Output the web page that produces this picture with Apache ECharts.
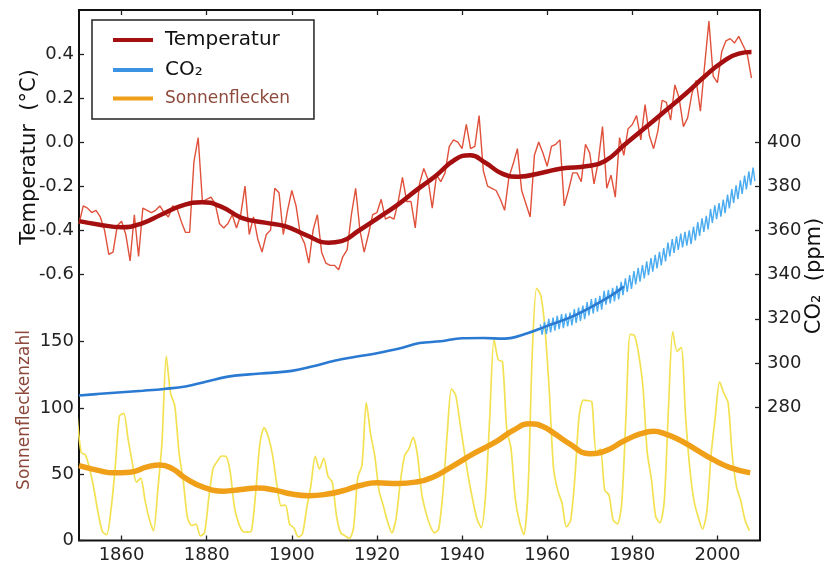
<!DOCTYPE html>
<html>
<head>
<meta charset="utf-8">
<script src="https://cdn.jsdelivr.net/npm/echarts@6/dist/echarts.min.js"></script>
<style>
html,body{margin:0;padding:0;background:#fff;}
#chart{width:836px;height:561px;}
</style>
</head>
<body>
<div id="chart"></div>
<script>
// ---------- DATA ----------
const tempStartYear = 1850;
const tempValues = [
-0.37,-0.29,-0.30,-0.32,-0.31,-0.34,-0.40,-0.51,-0.50,-0.38,
-0.36,-0.42,-0.54,-0.33,-0.52,-0.30,-0.31,-0.32,-0.31,-0.29,
-0.32,-0.34,-0.29,-0.30,-0.36,-0.41,-0.41,-0.09,0.02,-0.27,
-0.26,-0.25,-0.28,-0.37,-0.39,-0.37,-0.33,-0.39,-0.33,-0.20,
-0.42,-0.34,-0.44,-0.50,-0.42,-0.40,-0.21,-0.23,-0.42,-0.31,
-0.22,-0.29,-0.42,-0.46,-0.55,-0.40,-0.33,-0.50,-0.55,-0.56,
-0.56,-0.58,-0.52,-0.49,-0.33,-0.21,-0.40,-0.50,-0.42,-0.33,
-0.32,-0.26,-0.35,-0.34,-0.35,-0.27,-0.16,-0.27,-0.27,-0.39,
-0.19,-0.12,-0.17,-0.30,-0.15,-0.18,-0.14,-0.02,0.01,0.00,
-0.03,0.08,-0.03,-0.02,0.12,-0.13,-0.20,-0.21,-0.22,-0.26,
-0.31,-0.16,-0.10,-0.03,-0.22,-0.28,-0.34,-0.06,0.00,-0.05,
-0.11,-0.02,-0.01,0.01,-0.29,-0.22,-0.14,-0.14,-0.18,-0.01,
-0.05,-0.19,-0.09,0.07,-0.21,-0.15,-0.25,0.02,-0.06,0.06,
0.08,0.12,0.01,0.17,0.03,-0.03,0.05,0.19,0.18,0.10,
0.26,0.20,0.07,0.11,0.22,0.28,0.14,0.35,0.55,0.30,
0.27,0.41,0.46,0.47,0.45,0.48,0.44,0.40,0.29
];
const tempSmoothYears = [1850,1854.5,1860,1864.7,1869.4,1874,1878.8,1883.5,1888.2,1893.7,1898.4,1903.1,1908.6,1911.7,1915.6,1920.3,1925,1929.5,1933.7,1938.4,1941.9,1945.5,1949.3,1953.3,1958.8,1963.4,1969.5,1973.6,1978.3,1983,1987.7,1992.4,1997.1,2001,2005,2008];
const tempSmoothValues = [-0.359,-0.374,-0.387,-0.37,-0.329,-0.29,-0.273,-0.294,-0.344,-0.366,-0.382,-0.42,-0.457,-0.45,-0.404,-0.344,-0.283,-0.215,-0.155,-0.079,-0.06,-0.094,-0.142,-0.157,-0.139,-0.12,-0.109,-0.086,-0.01,0.065,0.141,0.217,0.3,0.361,0.402,0.409];

const co2IceYears = [1850,1855,1860,1865,1870,1875,1880,1885,1890,1895,1900,1905,1910,1915,1920,1925,1930,1935,1940,1945,1950,1955,1960,1965,1970,1975,1978];
const co2IceValues = [285.2,286.0,286.7,287.4,288.2,289.3,291.6,293.8,294.8,295.5,296.4,298.5,301.0,302.8,304.4,306.4,309.0,309.8,311.2,311.3,311.0,313.2,316.8,320.3,325.0,330.5,334.6];

const co2MloYears = [1958,1959,1960,1961,1962,1963,1964,1965,1966,1967,1968,1969,1970,1971,1972,1973,1974,1975,1976,1977,1978,1979,1980,1981,1982,1983,1984,1985,1986,1987,1988,1989,1990,1991,1992,1993,1994,1995,1996,1997,1998,1999,2000,2001,2002,2003,2004,2005,2006,2007,2008];
const co2MloSpringPeak = [317.5,318.6,320.0,320.6,321.4,322.1,322.4,322.8,324.4,325.1,326.0,327.6,328.9,329.4,330.4,332.7,333.1,334.0,335.0,336.8,338.3,339.8,341.6,343.1,344.4,346.1,347.5,349.0,350.4,352.1,354.6,356.1,357.4,358.6,359.4,360.1,361.8,363.8,365.6,366.7,369.7,371.4,372.5,374.1,376.3,378.8,380.5,382.8,384.9,386.8,388.6];
const co2MloAutumnLow = [312.8,313.0,313.8,314.6,315.3,315.8,316.6,317.0,318.2,319.0,319.8,321.5,322.4,323.2,324.1,326.4,327.0,327.9,328.8,330.7,332.2,333.6,335.6,336.9,338.3,339.8,341.4,342.9,344.2,346.0,348.3,349.9,351.2,352.4,353.2,353.9,355.6,357.6,359.4,360.5,363.5,365.2,366.3,367.9,370.1,372.6,374.3,376.6,378.7,380.6,382.4];

const sunStartYear = 1849;
const sunValues = [
95.8,66.5,64.5,54.1,39.0,20.6,6.7,4.3,22.7,54.8,93.8,
95.8,77.2,59.1,44.0,47.0,30.5,16.3,7.3,37.6,74.0,
139.0,111.2,101.6,66.2,44.7,17.0,11.3,12.4,3.4,6.0,
32.3,54.3,59.7,63.7,63.5,52.2,25.4,13.1,6.8,6.3,
7.1,35.6,73.0,85.1,78.0,64.0,41.8,26.2,26.7,12.1,
9.5,2.7,5.0,24.4,42.0,63.5,53.8,62.0,48.5,43.9,
18.6,5.7,3.6,1.4,9.6,47.4,57.1,103.9,80.6,63.6,
37.6,26.1,14.2,5.8,16.7,44.3,63.9,69.0,77.8,64.9,
35.7,21.2,11.1,5.7,8.7,36.1,79.7,114.4,109.6,88.8,
67.8,47.5,30.6,16.3,9.6,33.2,92.6,151.6,136.3,134.7,
83.9,69.4,31.5,13.9,4.4,38.0,141.7,190.2,184.8,159.0,
112.3,53.9,37.6,27.9,10.2,15.1,47.0,93.8,105.9,105.5,
104.5,66.6,68.9,38.0,34.5,15.5,12.6,27.5,92.5,155.4,
154.6,140.4,115.9,66.6,45.9,17.9,13.4,29.4,100.2,157.6,
142.6,145.7,94.3,54.6,29.9,17.5,8.6,21.5,64.3,93.3,
119.6,111.0,104.0,63.7,40.4,29.8,15.2,7.5
];
const sunSmoothYears = [1850,1855,1858,1862,1866,1869,1872,1875,1879,1884,1888,1892,1896,1900,1904,1908,1912,1916,1920,1925,1929,1933,1938,1943,1948,1952,1956,1959,1962,1965,1970,1974,1978,1982,1985,1988,1991,1995,1999,2003,2007.7];
const sunSmoothValues = [56.5,52.5,51,51.5,55.5,57,54,47,40.5,37.2,38.5,39.5,38,35,33.8,34.8,37.5,41.5,43.5,43,44,47.5,56.5,66,74.5,83,88,86,80,73.5,65.5,68,75,80.5,82.3,80,76,68.5,61,55,51];

const xTickValues = [1860,1880,1900,1920,1940,1960,1980,2000];
const tempTickValues = [-0.6,-0.4,-0.2,0.0,0.2,0.4];
const sunTickValues = [0,50,100,150];
const co2TickValues = [280,300,320,340,360,380,400];

// ---------- BUILD ----------
const tempData = tempValues.map((v,i)=>[tempStartYear+i, v]);
const tempSmooth = tempSmoothYears.map((y,i)=>[y, tempSmoothValues[i]]);
const co2Ice = co2IceYears.map((y,i)=>[y, co2IceValues[i]]);
const co2Mlo = [];
co2MloYears.forEach((y,i)=>{
  co2Mlo.push([y+0.38, co2MloSpringPeak[i]]);
  co2Mlo.push([y+0.80, co2MloAutumnLow[i]]);
});
const sunData = sunValues.map((v,i)=>[sunStartYear+i+0.5, v]);
const sunSmooth = sunSmoothYears.map((y,i)=>[y, sunSmoothValues[i]]);

const FONT = 'DejaVu Sans';
const labelStyle = {fontFamily: FONT, fontSize: 18, color: '#222'};
const tickStyle = {color: '#222', width: 1.3};

const chart = echarts.init(document.getElementById('chart'), null, {renderer:'canvas'});
chart.setOption({
  backgroundColor: '#fff',
  animation: false,
  grid: {left: 79, right: 76, top: 10, bottom: 20.5, show: true, borderColor: '#111', borderWidth: 2,
         backgroundColor: 'transparent', containLabel: false, outerBoundsMode: 'none'},
  legend: {
    left: 92, top: 20, orient: 'vertical',
    icon: 'rect', itemWidth: 40, itemHeight: 4, itemGap: 10,
    padding: [10, 24, 12, 21],
    borderColor: '#222', borderWidth: 1.5, borderRadius: 0, backgroundColor: '#fff',
    textStyle: {fontFamily: FONT, fontSize: 20, color: '#111', padding: [0,0,0,7]},
    selectedMode: false,
    data: [
      {name: 'Temperatur', itemStyle: {color: '#a50f0f'}},
      {name: 'CO₂', itemStyle: {color: '#3d93e3'}},
      {name: 'Sonnenflecken', itemStyle: {color: '#f0a018'}, textStyle: {fontSize: 17, color: '#8d4a3c'}}
    ]
  },
  xAxis: [
    {type: 'value', min: 1850, max: 2010, position: 'bottom',
     axisLine: {show: false, onZero: false}, splitLine: {show: false},
     axisTick: {inside: true, length: 5, customValues: xTickValues, lineStyle: tickStyle},
     axisLabel: {customValues: xTickValues, margin: 6, formatter: v => String(v), ...labelStyle}},
    {type: 'value', min: 1850, max: 2010, position: 'top',
     axisLine: {show: false, onZero: false}, splitLine: {show: false},
     axisTick: {inside: true, length: 5, customValues: xTickValues, lineStyle: tickStyle},
     axisLabel: {show: false}}
  ],
  yAxis: [
    {type: 'value', min: -1.81, max: 0.6, position: 'left',
     axisLine: {show: false, onZero: false}, splitLine: {show: false},
     axisTick: {inside: true, length: 5, customValues: tempTickValues, lineStyle: tickStyle},
     axisLabel: {customValues: tempTickValues, margin: 5, formatter: v => v.toFixed(1), ...labelStyle}},
    {type: 'value', min: 0, max: 400, position: 'left',
     axisLine: {show: false, onZero: false}, splitLine: {show: false},
     axisTick: {inside: true, length: 5, customValues: sunTickValues, lineStyle: tickStyle},
     axisLabel: {customValues: sunTickValues, margin: 5, formatter: v => String(v), ...labelStyle}},
    {type: 'value', min: 219.5, max: 460, position: 'right',
     axisLine: {show: false, onZero: false}, splitLine: {show: false},
     axisTick: {inside: true, length: 5, customValues: co2TickValues, lineStyle: tickStyle},
     axisLabel: {customValues: co2TickValues, margin: 7, formatter: v => String(v), ...labelStyle}}
  ],
  graphic: [
    {type: 'text', x: 30, y: 157, rotation: Math.PI/2,
     style: {text: 'Temperatur  (°C)', font: '21px "DejaVu Sans"', fill: '#111', align: 'center', verticalAlign: 'middle'}},
    {type: 'text', x: 25, y: 410, rotation: Math.PI/2,
     style: {text: 'Sonnenfleckenzahl', font: '17px "DejaVu Sans"', fill: '#8d4a3c', align: 'center', verticalAlign: 'middle'}},
    {type: 'text', x: 815, y: 276, rotation: Math.PI/2,
     style: {text: 'CO₂  (ppm)', font: '21px "DejaVu Sans"', fill: '#111', align: 'center', verticalAlign: 'middle'}}
  ],
  series: [
    {name: 'sunRaw', type: 'line', xAxisIndex: 0, yAxisIndex: 1, data: sunData, showSymbol: false, smooth: 0.25,
     lineStyle: {color: '#f3e152', width: 1.7}, z: 2},
    {name: 'Sonnenflecken', type: 'line', xAxisIndex: 0, yAxisIndex: 1, data: sunSmooth, smooth: 0.5, showSymbol: false,
     lineStyle: {color: '#f0a018', width: 5.5}, itemStyle: {color: '#f0a018'}, z: 3},
    {name: 'co2Mlo', type: 'line', xAxisIndex: 0, yAxisIndex: 2, data: co2Mlo, showSymbol: false,
     lineStyle: {color: '#4aabf0', width: 1.4}, z: 4},
    {name: 'CO₂', type: 'line', xAxisIndex: 0, yAxisIndex: 2, data: co2Ice, smooth: 0.4, showSymbol: false,
     lineStyle: {color: '#2a7ad2', width: 2.6}, itemStyle: {color: '#3d93e3'}, z: 5},
    {name: 'tempRaw', type: 'line', xAxisIndex: 0, yAxisIndex: 0, data: tempData, showSymbol: false,
     lineStyle: {color: '#e0513b', width: 1.4}, z: 6},
    {name: 'Temperatur', type: 'line', xAxisIndex: 0, yAxisIndex: 0, data: tempSmooth, smooth: 0.5, showSymbol: false,
     lineStyle: {color: '#a50f0f', width: 4.5}, itemStyle: {color: '#a50f0f'}, z: 7}
  ]
});
</script>
</body>
</html>
